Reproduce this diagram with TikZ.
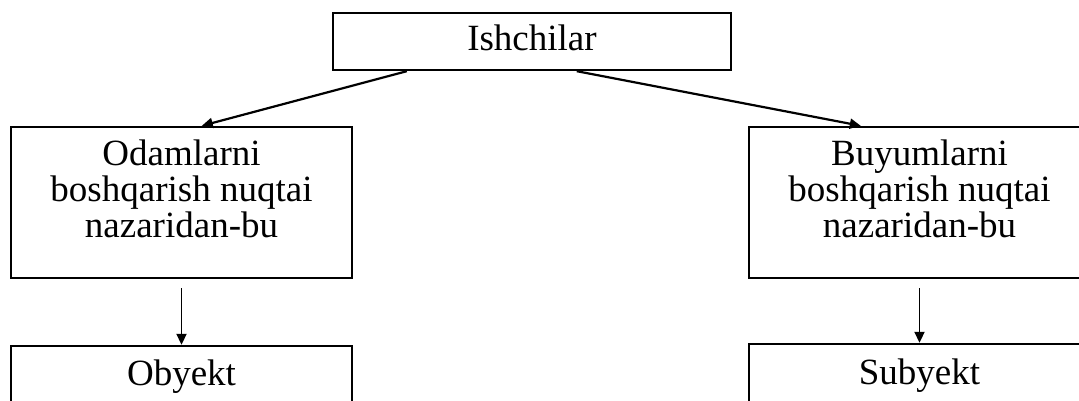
\documentclass[tikz,border=0pt]{standalone}
\usepackage{fontspec}
\setmainfont{Liberation Serif}
\usetikzlibrary{arrows.meta}
\begin{document}
\begin{tikzpicture}[x=1pt,y=-1pt,
  frame/.style={draw, line width=2.4pt, inner sep=0pt, minimum width=#1},
  txt/.style={anchor=base, align=center, inner sep=0pt, font=\fontsize{37}{35.8}\selectfont},
  diag/.style={line width=2.2pt, -{Triangle[length=11pt,width=10pt]}},
  vert/.style={line width=1.9pt, -{Triangle[length=11pt,width=10pt]}}
]
\useasboundingbox (0,0) rectangle (1079,401);
\clip (0,0) rectangle (1079,401);
% frames
\node[frame=398pt, minimum height=57pt] (ishchi) at (532,41.5) {};
\node[frame=341pt, minimum height=151pt] (odam) at (181.5,202.5) {};
\node[frame=341pt, minimum height=151pt] (buyum) at (919.5,202.5) {};
\node[frame=341pt, minimum height=100pt] (obyekt) at (181.5,396) {};
\node[frame=341pt, minimum height=100pt] (subyekt) at (919.5,394) {};
% texts
\node[txt] (ishchitxt) at (532,51) {Ishchilar};
\node[txt] (odamtxt) at (181.5,237) {Odamlarni\\boshqarish nuqtai\\nazaridan-bu};
\node[txt] (buyumtxt) at (919.5,237) {Buyumlarni\\boshqarish nuqtai\\nazaridan-bu};
\node[txt] (obyekttxt) at (181.5,385) {Obyekt};
\node[txt] (subyekttxt) at (919.5,384) {Subyekt};
% connectors
\draw[diag] ([xshift=75pt]ishchi.south west) -- ([xshift=192pt]odam.north west);
\draw[diag] ([xshift=245pt]ishchi.south west) -- ([xshift=113pt]buyum.north west);
\draw[vert] ([yshift=-9pt]odam.south) -- (obyekt.north);
\draw[vert] ([yshift=-9pt]buyum.south) -- (subyekt.north);
\end{tikzpicture}
\end{document}
